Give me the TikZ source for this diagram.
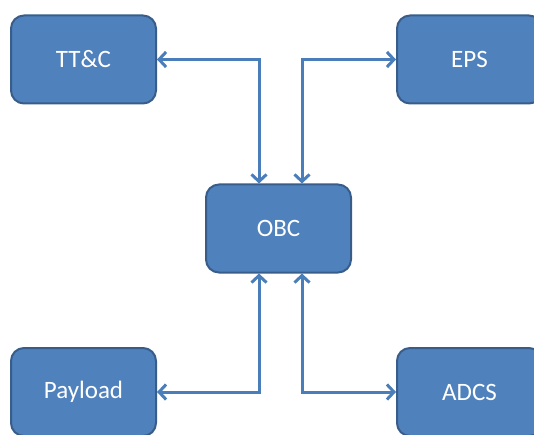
\documentclass[tikz,border=0pt]{standalone}
\usepackage{fontspec}
\setmainfont{Carlito}
\usetikzlibrary{arrows.meta}
\definecolor{boxfill}{HTML}{4F81BD}
\definecolor{boxline}{HTML}{385D8A}
\definecolor{linkline}{HTML}{4A7EBB}
\begin{document}
\begin{tikzpicture}[x=1pt,y=-1pt,
  unit/.style={draw=boxline, line width=2pt, fill=boxfill, rounded corners=13pt,
    minimum width=145pt, minimum height=88pt, inner sep=0pt,
    text=white, font=\fontsize{25}{29}\selectfont},
  link/.style={draw=linkline, line width=3pt,
    {Straight Barb[length=7pt,width=15pt]}-{Straight Barb[length=7pt,width=15pt]}}]
\useasboundingbox (0,0) rectangle (534,435);
\node[unit] (ttc)  at (83.5,59.5)  {TT\&C};
\node[unit] (eps)  at (469.5,59.5) {EPS};
\node[unit] (obc)  at (278.5,228.5) {OBC};
\node[unit] (pay)  at (83.5,392)   {Payload};
\node[unit] (adcs) at (469.5,392)  {ADCS};
\draw[link] (ttc.east) -| ([xshift=-19.5pt]obc.north);
\draw[link] (eps.west) -| ([xshift=23.5pt]obc.north);
\draw[link] (pay.east) -| ([xshift=-19.5pt]obc.south);
\draw[link] (adcs.west) -| ([xshift=23.5pt]obc.south);
\end{tikzpicture}
\end{document}
